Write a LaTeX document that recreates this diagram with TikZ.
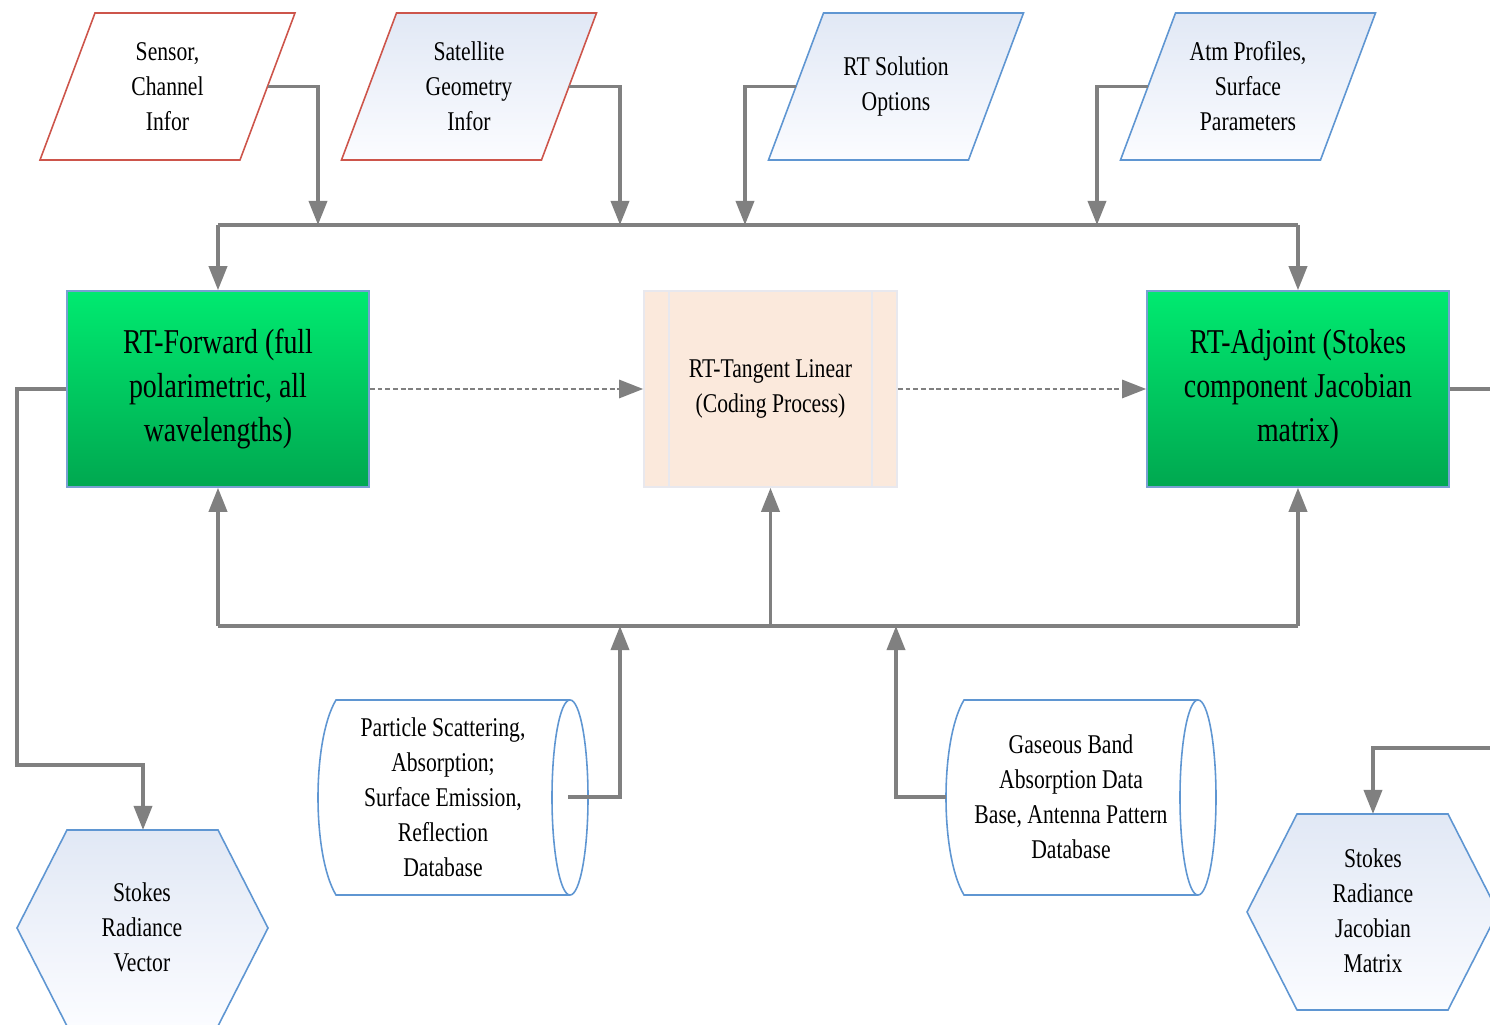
\documentclass[tikz,border=0pt]{standalone}
\usepackage{fontspec}
\setmainfont{Liberation Serif}[FakeStretch=0.8]
\usepackage{tikz}
\usetikzlibrary{arrows.meta,positioning}
\definecolor{redline}{RGB}{205,85,75}
\definecolor{blueline}{RGB}{95,150,210}
\definecolor{linegray}{RGB}{128,128,128}
\definecolor{paletop}{RGB}{225,232,245}
\definecolor{palebot}{RGB}{251,252,255}
\definecolor{greentop}{RGB}{0,234,112}
\definecolor{greenbot}{RGB}{0,168,80}
\definecolor{peach}{RGB}{251,233,220}
\definecolor{peachline}{RGB}{232,232,238}
\definecolor{boxline}{RGB}{120,160,210}
\tikzstyle{small} = [font=\fontsize{7.7}{9.96}\selectfont, align=center]
\tikzstyle{proc} = [rectangle, draw=boxline, top color=greentop, bottom color=greenbot,
    minimum width=3.02cm, minimum height=1.96cm, align=center, line width=0.4pt,
    font=\fontsize{9.9}{12.5}\selectfont]
\tikzstyle{conn} = [draw=linegray, line width=1.05pt]
\tikzstyle{arr} = [conn, -{Triangle[width=0.18cm,length=0.24cm]}]
\tikzstyle{dasharr} = [arr, line width=0.8pt, dash pattern=on 1.4pt off 0.8pt]
\tikzstyle{shell} = [draw=blueline, line width=0.45pt]
\tikzstyle{redshell} = [draw=redline, line width=0.45pt]
\tikzstyle{pale} = [top color=paletop, bottom color=palebot]

\begin{document}
\begin{tikzpicture}[x=0.01cm, y=-0.01cm]
  \useasboundingbox (0,0) rectangle (1490,1025);
  \clip (0,0) rectangle (1490,1025);
  % inputs
  \draw [redshell, fill=white] (40,160) -- (240,160) -- (295,13) -- (95,13) -- cycle;
  \draw [redshell, pale] (341.5,160) -- (541.5,160) -- (596.5,13) -- (396.5,13) -- cycle;
  \draw [shell, pale] (768.5,160) -- (968.5,160) -- (1023.5,13) -- (823.5,13) -- cycle;
  \draw [shell, pale] (1120.5,160) -- (1320.5,160) -- (1375.5,13) -- (1175.5,13) -- cycle;
  \node [small] (in1) at (167.5,86.5) {Sensor,\\Channel\\Infor};
  \node [small] (in2) at (469,86.5) {Satellite\\Geometry\\Infor};
  \node [small] (in3) at (896,86.5) {RT Solution\\Options};
  \node [small] (in4) at (1248,86.5) {Atm Profiles,\\Surface\\Parameters};
  % Place nodes
  \node [proc] (fwd) at (218,389) {RT-Forward (full\\polarimetric, all\\wavelengths)};
  \node [small, rectangle, draw=peachline, fill=peach, minimum width=2.53cm,
    minimum height=1.96cm] (tl) at (770.5,389) {RT-Tangent Linear\\(Coding Process)};
  \draw [peachline, line width=0.5pt] ([xshift=0.26cm]tl.north west) -- ([xshift=0.26cm]tl.south west);
  \draw [peachline, line width=0.5pt] ([xshift=-0.26cm]tl.north east) -- ([xshift=-0.26cm]tl.south east);
  \node [proc] (adj) at (1298,389) {RT-Adjoint (Stokes\\component Jacobian\\matrix)};

  % databases
  \draw [shell] (570,700) -- (336,700) .. controls (312,740) and (312,855) .. (336,895) -- (570,895);
  \draw [shell] (570,797.5) ellipse [x radius=0.18cm, y radius=0.975cm];
  \node [small] (db1) at (443,797) {Particle Scattering,\\Absorption;\\Surface Emission,\\Reflection\\Database};
  \draw [shell] (1198,700) -- (964,700) .. controls (940,740) and (940,855) .. (964,895) -- (1198,895);
  \draw [shell] (1198,797.5) ellipse [x radius=0.18cm, y radius=0.975cm];
  \node [small] (db2) at (1071,797) {Gaseous Band\\Absorption Data\\Base, Antenna Pattern\\Database};

  % outputs
  \draw [shell, pale] (67,830) -- (218,830) -- (268,928) -- (218,1026) -- (67,1026) -- (17,928) -- cycle;
  \node [small] (out1) at (142,927) {Stokes\\Radiance\\Vector};
  \draw [shell, pale] (1297,814) -- (1448,814) -- (1498,912) -- (1448,1010) -- (1297,1010) -- (1247,912) -- cycle;
  \node [small] (out2) at (1373,911) {Stokes\\Radiance\\Jacobian\\Matrix};

  \coordinate (in1e) at (267.5,86.5);
  \coordinate (in2e) at (569,86.5);
  \coordinate (in3w) at (796,86.5);
  \coordinate (in4w) at (1148,86.5);
  \coordinate (t1) at (218,225);
  \coordinate (t2) at (1298,225);
  \coordinate (b1) at (218,626);
  \coordinate (b2) at (770.5,626);
  \coordinate (b3) at (1298,626);
  \coordinate (db1o) at (568,797);
  \coordinate (db2o) at (946,797);
  \coordinate (o1) at (143,830);
  \coordinate (o2) at (1373,814);

  % top bus
  \draw [conn] (t1) -- (t2);
  \draw [arr] (t1) -- (fwd);
  \draw [arr] (t2) -- (adj);
  \draw [arr] (in1e) -| (318,225);
  \draw [arr] (in2e) -| (620,225);
  \draw [arr] (in3w) -| (745,225);
  \draw [arr] (in4w) -| (1097,225);
  % dashed flow
  \draw [dasharr] (fwd) -- (tl);
  \draw [dasharr] (tl) -- (adj);
  % bottom bus
  \draw [conn] (b1) -- (b3);
  \draw [arr] (b1) -- (fwd);
  \draw [arr] (b2) -- (tl);
  \draw [arr] (b3) -- (adj);
  \draw [arr] (db1o) -| (620,626);
  \draw [arr] (db2o) -| (896,626);
  % results
  \draw [arr] (fwd.west) -| (17,765) -| (o1);
  \draw [conn] (adj.east) -- (1520,389);
  \draw [arr] (1520,748) -| (o2);
\end{tikzpicture}
\end{document}
